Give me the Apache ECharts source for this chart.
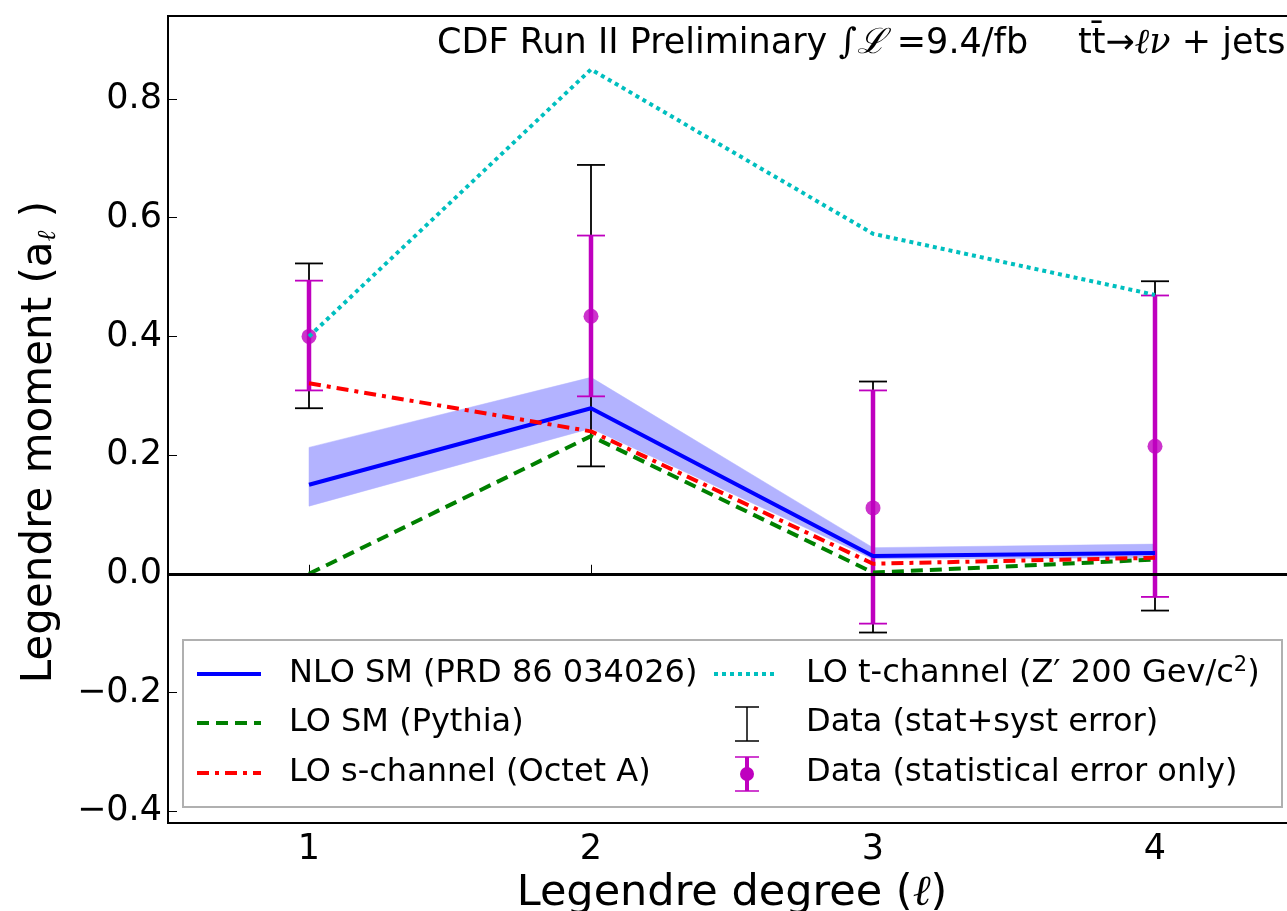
<!DOCTYPE html>
<html>
<head>
<meta charset="utf-8">
<script src="https://cdn.jsdelivr.net/npm/echarts@6/dist/echarts.min.js"></script>
<style>
  html, body { margin: 0; padding: 0; background: #fff; }
  #chart { width: 1287px; height: 911px; }
</style>
</head>
<body>
<div id="chart"></div>
<script>
// Legendre degrees (x)
const degrees = [1, 2, 3, 4]

// theory curves
const nloSM = [0.150, 0.279, 0.030, 0.035]
const nloBandLo = [0.114, 0.245, 0.025, 0.027]
const nloBandHi = [0.213, 0.331, 0.044, 0.050]
const loSM = [0.000, 0.232, 0.002, 0.024]
const loSChannel = [0.321, 0.240, 0.017, 0.027]
const loTChannel = [0.400, 0.850, 0.573, 0.470]

// data with errors
const dataVal = [0.400, 0.434, 0.111, 0.215]
const statLo = [0.309, 0.299, -0.084, -0.039]
const statHi = [0.494, 0.570, 0.309, 0.469]
const totLo = [0.279, 0.181, -0.099, -0.062]
const totHi = [0.523, 0.689, 0.324, 0.493]

// axis ticks
const xTicks = [1, 2, 3, 4]
const yTicks = [-0.4, -0.2, 0, 0.2, 0.4, 0.6, 0.8]

const FONT = 'DejaVu Sans'
const BLUE = '#0000ff', GREEN = '#008000', RED = '#ff0000', CYAN = '#00bfbf', MAGENTA = '#bf00bf'
const DASH_GREEN = [12, 7], DASH_RED = [12, 6, 4, 6], DOT_CYAN = [4, 4]

const chart = echarts.init(document.getElementById('chart'))

const pairs = arr => degrees.map((d, i) => [d, arr[i]])

// vertical error bar with caps
const errorBar = (color, lw, capW, capLw) => (params, api) => {
  const x = api.value(0)
  const top = api.coord([x, api.value(2)])
  const bot = api.coord([x, api.value(1)])
  const h = capW / 2
  return {
    type: 'group',
    children: [
      { type: 'line', shape: { x1: top[0], y1: top[1], x2: bot[0], y2: bot[1] }, style: { stroke: color, lineWidth: lw } },
      { type: 'line', shape: { x1: top[0] - h, y1: top[1], x2: top[0] + h, y2: top[1] }, style: { stroke: color, lineWidth: capLw } },
      { type: 'line', shape: { x1: bot[0] - h, y1: bot[1], x2: bot[0] + h, y2: bot[1] }, style: { stroke: color, lineWidth: capLw } }
    ]
  }
}

// uncertainty band, one quad per segment
const bandRender = (params, api) => {
  const i = params.dataIndex
  if (i >= degrees.length - 1) return null
  const p = [
    api.coord([degrees[i], nloBandLo[i]]),
    api.coord([degrees[i], nloBandHi[i]]),
    api.coord([degrees[i + 1], nloBandHi[i + 1]]),
    api.coord([degrees[i + 1], nloBandLo[i + 1]])
  ]
  return { type: 'polygon', shape: { points: p }, style: { fill: '#b3b3ff', stroke: '#b3b3ff', lineWidth: 0.5 } }
}

const lineSeries = (name, arr, color, dash) => ({
  name,
  type: 'line',
  data: pairs(arr),
  symbol: 'none',
  silent: true,
  lineStyle: { color, width: 4, type: dash, cap: 'butt' },
  z: 4
})

// legend drawn by hand so the error bar icons look right
const rowY = [674, 723, 773]
const legendText = (x, y, text, rich) => ({
  type: 'text', x, y, z: 11,
  style: { text, font: `32px "${FONT}"`, fill: '#000', verticalAlign: 'middle', rich }
})
const legendLine = (x1, y, color, dash) => ({
  type: 'line', z: 11, shape: { x1, y1: y, x2: x1 + 64, y2: y },
  style: { stroke: color, lineWidth: 4, lineDash: dash }
})
const seg = (x1, y1, x2, y2, color, lw) => ({
  type: 'line', z: 11, shape: { x1, y1, x2, y2 }, style: { stroke: color, lineWidth: lw }
})

const option = {
  animation: false,
  backgroundColor: '#fff',
  // plot box runs a little past the right edge of the picture
  grid: {
    left: 168, top: 16, width: 1128, height: 807,
    outerBoundsMode: 'none', containLabel: false,
    show: true, borderColor: '#000', borderWidth: 2, backgroundColor: 'transparent'
  },
  xAxis: {
    type: 'value', min: 0.5, max: 4.5,
    name: 'Legendre degree ({i|ℓ})',
    nameLocation: 'middle', nameGap: 41,
    nameTextStyle: { fontFamily: FONT, fontSize: 43, color: '#000', rich: { i: { fontFamily: 'DejaVu Serif', fontStyle: 'italic', fontSize: 43 } } },
    axisLine: { show: false },
    axisTick: { show: true, inside: true, length: 9, customValues: xTicks, lineStyle: { color: '#000', width: 1 } },
    axisLabel: { customValues: xTicks, margin: 9, fontFamily: FONT, fontSize: 35, color: '#000', formatter: v => String(v) },
    splitLine: { show: false }
  },
  yAxis: {
    type: 'value', min: -0.42, max: 0.94,
    axisLine: { show: false },
    axisTick: { show: true, inside: true, length: 9, customValues: yTicks, lineStyle: { color: '#000', width: 1 } },
    axisLabel: { customValues: yTicks, margin: 6, fontFamily: FONT, fontSize: 35, color: '#000',
      formatter: v => (v < -1e-9 ? '\u2212' : '') + Math.abs(v).toFixed(1) },
    splitLine: { show: false }
  },
  series: [
    {
      name: 'band', type: 'custom', renderItem: bandRender, silent: true, z: 1,
      data: degrees.map((d, i) => [d, nloBandLo[i], nloBandHi[i]]),
      encode: { x: 0, y: [1, 2] },
      markLine: {
        silent: true, symbol: 'none', label: { show: false },
        lineStyle: { color: '#000', width: 3, type: 'solid' },
        data: [{ yAxis: 0 }]
      }
    },
    {
      name: 'tot', type: 'custom', renderItem: errorBar('#000', 1.8, 28, 1.8), silent: true, z: 2,
      data: degrees.map((d, i) => [d, totLo[i], totHi[i]]), encode: { x: 0, y: [1, 2] }
    },
    {
      name: 'stat', type: 'custom', renderItem: errorBar(MAGENTA, 4.5, 28, 1.8), silent: true, z: 3,
      data: degrees.map((d, i) => [d, statLo[i], statHi[i]]), encode: { x: 0, y: [1, 2] }
    },
    {
      name: 'data', type: 'scatter', data: pairs(dataVal), symbol: 'circle', symbolSize: 15, silent: true, z: 3,
      itemStyle: { color: MAGENTA }
    },
    lineSeries('NLO SM', nloSM, BLUE, 'solid'),
    lineSeries('LO SM', loSM, GREEN, DASH_GREEN),
    lineSeries('LO s-channel', loSChannel, RED, DASH_RED),
    lineSeries('LO t-channel', loTChannel, CYAN, DOT_CYAN)
  ],
  graphic: [
    // y axis title
    {
      type: 'text', x: 40, y: 442, rotation: Math.PI / 2,
      style: {
        text: 'Legendre moment (a{s|ℓ} )',
        font: `42px "${FONT}"`, fill: '#000', align: 'center', verticalAlign: 'middle',
        rich: { s: { fontFamily: 'DejaVu Serif', fontStyle: 'italic', fontSize: 26, padding: [16, 0, 0, 0] } }
      }
    },
    // annotation at top
    {
      type: 'text', x: 437, y: 44,
      style: {
        text: 'CDF Run II Preliminary {m|∫ℒ} =9.4/fb',
        font: `35px "${FONT}"`, fill: '#000', verticalAlign: 'middle',
        rich: { m: { fontFamily: 'DejaVu Serif', fontStyle: 'italic', fontSize: 35 } }
      }
    },
    {
      type: 'text', x: 1078, y: 44,
      style: {
        text: 'tt\u0304\u2192{m|ℓν} + jets',
        font: `35px "${FONT}"`, fill: '#000', verticalAlign: 'middle',
        rich: { m: { fontFamily: 'DejaVu Serif', fontStyle: 'italic', fontSize: 35 } }
      }
    },
    // legend box
    {
      type: 'rect', z: 10, shape: { x: 183, y: 640, width: 1099, height: 167 },
      style: { fill: '#fff', stroke: '#b0b0b0', lineWidth: 2 }
    },
    legendLine(197, rowY[0], BLUE, null),
    legendText(289, rowY[0], 'NLO SM (PRD 86 034026)'),
    legendLine(197, rowY[1], GREEN, DASH_GREEN),
    legendText(289, rowY[1], 'LO SM (Pythia)'),
    legendLine(197, rowY[2], RED, DASH_RED),
    legendText(289, rowY[2], 'LO s-channel (Octet A)'),
    legendLine(714, rowY[0], CYAN, DOT_CYAN),
    legendText(806, rowY[0], 'LO t-channel (Z\u2032 200 Gev/c{sup|2})',
      { sup: { fontFamily: FONT, fontSize: 21, padding: [0, 0, 16, 0] } }),
    // black error bar icon
    seg(747, 707, 747, 741, '#000', 1.5),
    seg(735, 707, 759, 707, '#000', 1.5),
    seg(735, 741, 759, 741, '#000', 1.5),
    legendText(806, rowY[1], 'Data (stat+syst error)'),
    // magenta error bar icon with dot
    seg(747, 757, 747, 791, MAGENTA, 4),
    seg(735, 757, 759, 757, MAGENTA, 1.5),
    seg(735, 791, 759, 791, MAGENTA, 1.5),
    { type: 'circle', z: 11, shape: { cx: 747, cy: 774, r: 7 }, style: { fill: MAGENTA } },
    legendText(806, rowY[2], 'Data (statistical error only)')
  ]
}

chart.setOption(option)
window.addEventListener('resize', () => chart.resize())
</script>
</body>
</html>
